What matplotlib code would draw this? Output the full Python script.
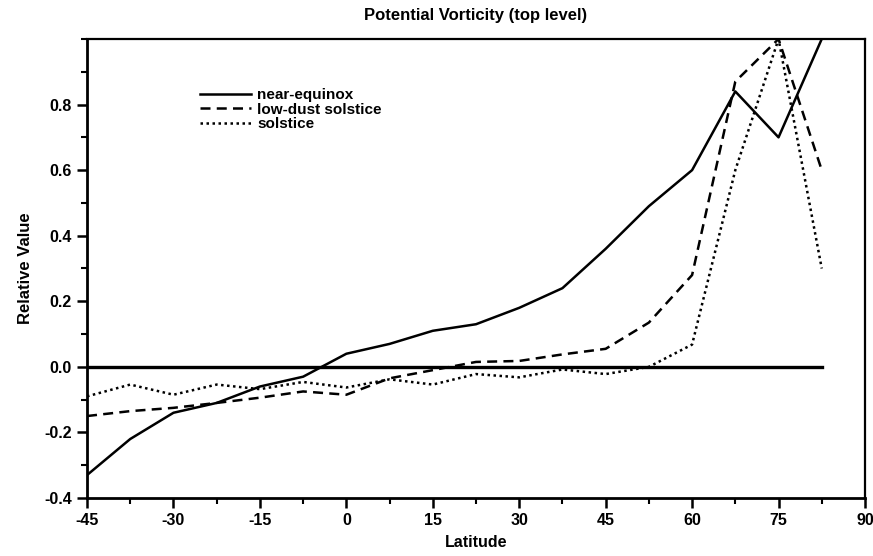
import numpy as np
import matplotlib
matplotlib.use("Agg")
import matplotlib.pyplot as plt
from matplotlib.ticker import MultipleLocator

plt.rcParams['font.family'] = ['Liberation Sans', 'DejaVu Sans']
plt.rcParams['axes.unicode_minus'] = False

# latitudes sampled every 7.5 degrees
latitude = [-45, -37.5, -30, -22.5, -15, -7.5, 0, 7.5, 15, 22.5, 30, 37.5,
            45, 52.5, 60, 67.5, 75, 82.5]

near_equinox = [-0.33, -0.22, -0.14, -0.11, -0.06, -0.03, 0.04, 0.07, 0.11, 0.13,
                0.18, 0.24, 0.36, 0.49, 0.60, 0.84, 0.70, 1.00]
low_dust_solstice = [-0.15, -0.135, -0.125, -0.11, -0.094, -0.075, -0.085, -0.035,
                     -0.01, 0.015, 0.018, 0.038, 0.055, 0.135, 0.28, 0.87, 1.00, 0.60]
solstice = [-0.09, -0.054, -0.085, -0.054, -0.068, -0.046, -0.063, -0.038, -0.054,
            -0.022, -0.032, -0.008, -0.022, 0.0, 0.068, 0.60, 1.00, 0.30]
zero_line = [0.0] * len(latitude)

fig = plt.figure(figsize=(8.73, 5.56), dpi=100)
ax = fig.add_axes([0.0997, 0.1043, 0.8911, 0.8256])

ax.plot(latitude, near_equinox, color='black', lw=1.8, ls='-', label='near-equinox')
ax.plot(latitude, low_dust_solstice, color='black', lw=1.8, ls=(0, (4, 2.5)),
        label='low-dust solstice')
ax.plot(latitude, solstice, color='black', lw=1.8, ls=(0, (1, 1.4)), label='solstice')
ax.plot(latitude, zero_line, color='black', lw=2.4)

ax.set_xlim(-45, 90)
ax.set_ylim(-0.4, 1.0)
ax.set_xticks(np.arange(-45, 91, 15))
ax.set_yticks([-0.4, -0.2, 0.0, 0.2, 0.4, 0.6, 0.8])
ax.set_yticklabels(['-0.4', '-0.2', '0.0', '0.2', '0.4', '0.6', '0.8'])
ax.xaxis.set_minor_locator(MultipleLocator(7.5))
ax.yaxis.set_minor_locator(MultipleLocator(0.1))

ax.tick_params(which='major', direction='out', length=7, width=1.8, labelsize=11.5, pad=4)
ax.tick_params(which='minor', direction='out', length=4, width=1.5)
for lab in ax.get_xticklabels() + ax.get_yticklabels():
    lab.set_fontweight('bold')

for side in ['left', 'bottom']:
    ax.spines[side].set_linewidth(2.0)
for side in ['top', 'right']:
    ax.spines[side].set_linewidth(1.6)

ax.set_xlabel('Latitude', fontsize=11.5, fontweight='bold', labelpad=5)
ax.set_ylabel('Relative Value', fontsize=12, fontweight='bold', labelpad=8)
ax.set_title('Potential Vorticity (top level)', fontsize=12, fontweight='bold', pad=14)

leg = ax.legend(loc='upper left', bbox_to_anchor=(0.136, 0.91), frameon=False,
                fontsize=11, handlelength=3.3, handletextpad=0.4, labelspacing=0.05,
                borderpad=0)
for t in leg.get_texts():
    t.set_fontweight('bold')

fig.savefig('out.png', dpi=100)
